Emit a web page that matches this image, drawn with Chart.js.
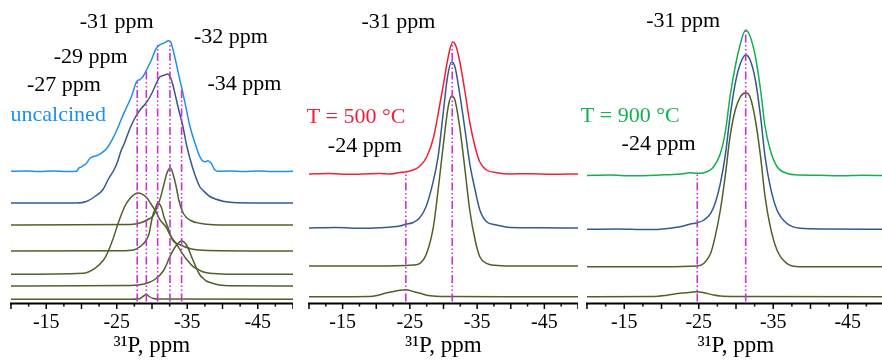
<!DOCTYPE html>
<html><head><meta charset="utf-8">
<script src="https://cdn.jsdelivr.net/npm/chart.js@4"></script>
<style>
html,body{margin:0;padding:0;background:#fff;overflow:hidden;width:882px;height:361px}
.p{position:absolute;top:0;height:361px}
</style></head><body>
<div class="p" style="left:9px;width:284px"><canvas id="c1"></canvas></div>
<div class="p" style="left:305px;width:273px"><canvas id="c2"></canvas></div>
<div class="p" style="left:579px;width:306px"><canvas id="c3"></canvas></div>
<script>
// ---------- Panel 1 : uncalcined ----------
const uncPpm = [-10,-12,-14,-16,-18,-19.3,-19.6,-20.0,-20.7,-21.2,-21.6,-22.1,-22.8,-23.6,-24.3,-25.0,-25.7,-26.4,-27.1,-27.8,-28.3,-28.7,-29.2,-29.9,-30.6,-31.1,-31.8,-32.3,-32.6,-33.0,-33.5,-33.9,-34.3,-34.9,-35.4,-36.1,-36.8,-37.5,-37.9,-38.4,-38.9,-39.4,-41,-43,-45,-47,-50];
const uncInt = [0,0.4,-0.3,0.3,-0.2,0,3,4.5,8,13,14.5,15.5,18,23,31,41,53,64,75,89.5,92,94.5,101,111,123,126.5,128.5,130.5,130,121,106,93,81,61,44.5,28,14.5,9.5,10.5,8,1.5,0,0.3,-0.3,0.3,-0.2,0];
const fitPpm = [-10,-19.3,-20.7,-22.0,-23.0,-23.9,-24.6,-25.1,-25.6,-26.1,-26.9,-27.5,-28.3,-29.3,-30.0,-30.7,-31.1,-31.8,-32.2,-32.6,-33.0,-33.4,-33.8,-34.4,-34.9,-35.4,-36.0,-36.8,-37.2,-38.2,-40.3,-42,-50];
const fitInt = [0,0,1.5,7,13,25,33,41,52,60,75,84,93,101.3,110,121,126,128,129,126,117,105,93,76,58,44,30,16,13,6.5,1.5,0.3,0];
const aPpm = [-10,-27,-28.3,-29.7,-30.2,-30.5,-31.1,-31.6,-32.1,-32.6,-33.1,-33.5,-33.8,-34.5,-35.5,-36.8,-37.7,-39.6,-50];
const aInt = [0,0.5,2,6.5,9.5,14,25,38,51.5,57,48,36,25,11,4.5,1.7,0.7,0,0];
const bPpm = [-10,-25.4,-27.5,-28.3,-29.1,-29.6,-29.9,-30.2,-30.4,-30.8,-31.3,-31.7,-32.4,-32.9,-33.9,-35.6,-37.9,-50];
const bInt = [0,0.3,1.3,4.3,10,17.7,29,37.7,41,47.7,44.3,34,21,11,6.5,2,0.5,0];
const cPpm = [-10,-20.2,-21.9,-23.1,-23.6,-24.4,-25.3,-26.1,-26.9,-28.0,-29.2,-29.7,-30.6,-31.1,-32.1,-32.5,-33.5,-34.4,-34.9,-35.8,-36.8,-37.2,-38.7,-41.5,-50];
const cInt = [0,1,6,14,20,34,53,67.3,76,81.3,77,72,62,55,46,40,30,20,15,8,4,2.5,0.7,0,0];
const dPpm = [-10,-27,-28.9,-30.4,-31.6,-32.1,-32.5,-33.5,-34.2,-34.9,-35.8,-36.8,-37.2,-37.7,-38.7,-39.6,-41,-50];
const dInt = [0,0.5,2,6.5,15,22,29,41,45,41,26,11,8,5,2.5,1,0.3,0];
const ePpm = [-10,-27,-28.2,-28.8,-29.2,-29.5,-30.2,-31,-50];
const eInt = [0,0,0.5,3.3,5,3.3,0.7,0.2,0];
const p1Offsets = [131.7,100,78,52,28.7,17,3.7];
const p1LinePpm = [-27.9,-29.2,-30.8,-32.55,-34.2];
const p1LineTop = [221.3,233,258,261.3,213.7];

// ---------- Panel 2 : T = 500 °C ----------
const red2Ppm = [-10,-13,-16,-19,-20.5,-22,-23.5,-24.3,-25.5,-26.5,-27.5,-28.5,-29.2,-30.0,-30.5,-31.0,-31.4,-31.9,-32.4,-33.2,-33.9,-34.7,-35.4,-36.4,-37.9,-40,-43,-46,-50];
const red2Int = [0,0.4,-0.3,0.3,0.5,0,1.5,2,4,8,17,36,60,90,110,126,132,127,113,82,52,27,12,4,1.3,0,0.3,-0.3,0];
const blue2Ppm = [-10,-14,-18,-20.5,-23.5,-24.4,-25.4,-26.4,-27.4,-28.4,-29.2,-29.9,-30.6,-31.2,-31.7,-32.4,-33.2,-33.9,-34.7,-35.4,-36.4,-37.9,-40,-44,-50];
const blue2Int = [0,0.4,-0.3,0.3,2,3.7,5.3,9.7,21.3,44.7,71.3,111.3,151.3,166,161.3,134.7,98,64.7,38,18,6.3,3,0.5,0.3,0];
const olive2Ppm = [-10,-20,-25.5,-26.5,-27.5,-28.5,-29.2,-30.0,-30.7,-31.2,-31.7,-32.4,-33.2,-33.9,-34.7,-35.4,-36.4,-37.6,-40,-50];
const olive2Int = [0,0,1,2.7,12.7,39.3,76,122.7,159.3,170,166,139.3,96,56,26,9.3,2.7,0.7,0,0];
const small2Ppm = [-10,-19,-20.1,-21.6,-23.1,-24.4,-25.6,-26.5,-27.5,-28.9,-31,-40,-50];
const small2Int = [0,0.3,1.2,4,6,7,5,3.5,1.5,0.5,0.2,0,0];
const p2Offsets = [129,75,37,6.3];
const p2LinePpm = [-24.4,-31.3];
const p2LineTop = [131.3,261.3];

// ---------- Panel 3 : T = 900 °C ----------
const green3Ppm = [-10,-13,-16,-19.8,-22.5,-23.9,-24.8,-25.7,-27.0,-27.9,-28.6,-29.2,-29.9,-30.6,-31.3,-31.9,-32.6,-33.3,-33.9,-34.6,-35.5,-36.8,-38.6,-41,-44,-47,-50];
const green3Int = [0,0.4,-0.3,0.5,1.5,2.8,2.2,2.8,8.8,22,45,79,109,132,145.5,139,119,85.5,49,25.5,9,2.2,0.5,0.3,-0.3,0.3,0];
const blue3Ppm = [-10,-14,-18,-19.8,-22.5,-23.9,-24.8,-25.7,-26.6,-27.2,-27.9,-28.6,-29.2,-29.9,-30.6,-31.3,-31.9,-32.6,-33.3,-33.9,-34.6,-35.5,-36.8,-38.6,-42,-50];
const blue3Int = [0,0.4,-0.3,0,2.6,5.3,6.6,9.3,16,26,46,76,112.6,146,166,174.3,169.3,149.3,112.6,72.6,42.6,19.3,6,1,0.3,0];
const olive3Ppm = [-10,-20,-24.8,-25.7,-26.6,-27.2,-27.9,-28.6,-29.2,-29.9,-30.6,-31.3,-31.9,-32.6,-33.3,-33.9,-34.6,-35.5,-36.8,-38.6,-50];
const olive3Int = [0,0,0.7,3.4,13.4,30,56.7,93.4,130,156.7,170,174,169.4,146.7,110,70,40,16.7,3.4,0,0];
const small3Ppm = [-10,-19,-20.7,-22.5,-23.9,-24.7,-25.7,-27.0,-27.9,-30,-50];
const small3Int = [0,0.3,1.5,3.4,4.4,5,4,1.7,0.7,0.2,0];
const p3Offsets = [127.5,73.7,36.3,6.3];
const p3LinePpm = [-24.8,-31.3];
const p3LineTop = [131.3,273];

// tick labels (ppm) shown on each axis
const tickLabels = [-15,-25,-35,-45];

// ---------- styling ----------
const C_LBLUE = '#1E90F0', C_DBLUE = '#35598F', C_OLIVE = '#4F6128', C_RED = '#F0203A', C_GREEN = '#14B050', C_MAG = '#CC33CC';
const SERIF = "'Liberation Serif','Times New Roman',serif";
Chart.defaults.font.family = SERIF;

function series(ppm, vals, off, color) {
  return { data: ppm.map((p, i) => ({ x: p, y: off + vals[i] })), borderColor: color, borderWidth: 1.5,
    pointRadius: 0, fill: false, cubicInterpolationMode: 'monotone' };
}
function vline(p, top) {
  return { data: [{ x: p, y: 1.5 }, { x: p, y: top }], borderColor: C_MAG, borderWidth: 1.6,
    borderDash: [8, 2.5, 1.5, 2.5, 1.5, 2.5], pointRadius: 0, fill: false, order: -1 };
}

const decor = {
  id: 'decor',
  afterDraw(chart) {
    const { ctx, chartArea: a, scales: { x, y } } = chart;
    ctx.save();
    ctx.strokeStyle = '#000';
    ctx.lineWidth = 2;
    ctx.beginPath(); ctx.moveTo(a.left - 1, a.bottom + 0.5); ctx.lineTo(a.right + 1, a.bottom + 0.5); ctx.stroke();
    ctx.lineWidth = 1.5;
    for (let v = -10; v >= -50; v -= 2.5) {
      const px = x.getPixelForValue(v);
      const major = Math.abs(v % 5) < 1e-6;
      ctx.beginPath(); ctx.moveTo(px, a.bottom); ctx.lineTo(px, a.bottom + (major ? 6 : 3.5)); ctx.stroke();
    }
    const labs = chart.options.plugins.decor.labels || [];
    ctx.textAlign = 'center'; ctx.textBaseline = 'alphabetic';
    ctx.font = '22px ' + SERIF;
    labs.forEach(l => {
      ctx.fillStyle = l.color || '#000';
      ctx.fillText(l.text, x.getPixelForValue(l.ppm), y.getPixelForValue(l.y));
    });
    ctx.restore();
  }
};

function makeChart(id, padLeft, datasets, labels) {
  return new Chart(document.getElementById(id), {
    type: 'line',
    data: { datasets },
    plugins: [decor],
    options: {
      responsive: true, maintainAspectRatio: false, animation: false,
      layout: { padding: { left: padLeft, right: 0, top: 0, bottom: 0 } },
      plugins: { legend: { display: false }, tooltip: { enabled: false }, decor: { labels } },
      scales: {
        x: {
          type: 'linear', min: -50, max: -10, reverse: true,
          grid: { display: false, drawTicks: true, tickLength: 8 }, border: { display: false },
          ticks: { stepSize: 5, autoSkip: false, maxRotation: 0, padding: 0, color: '#000',
            font: { size: 20, family: SERIF },
            callback: v => (tickLabels.includes(v) ? String(v) : '') },
          title: { display: true, text: '\u00B3\u00B9P, ppm', color: '#000', font: { size: 23, family: SERIF },
            padding: { top: 0, bottom: 1 } },
          afterFit: s => { s.height = 58; s.paddingLeft = 0; s.paddingRight = 0; }
        },
        y: { type: 'linear', min: 0, max: 303, display: false }
      }
    }
  });
}

// Panel 1
makeChart('c1', 2, [
  series(uncPpm, uncInt, p1Offsets[0], C_LBLUE),
  series(fitPpm, fitInt, p1Offsets[1], C_DBLUE),
  series(aPpm, aInt, p1Offsets[2], C_OLIVE),
  series(bPpm, bInt, p1Offsets[3], C_OLIVE),
  series(cPpm, cInt, p1Offsets[4], C_OLIVE),
  series(dPpm, dInt, p1Offsets[5], C_OLIVE),
  series(ePpm, eInt, p1Offsets[6], C_OLIVE),
  ...p1LinePpm.map((p, i) => vline(p, p1LineTop[i]))
], [
  { text: '-31 ppm', ppm: -25.0, y: 275.5 },
  { text: '-32 ppm', ppm: -41.2, y: 260 },
  { text: '-29 ppm', ppm: -21.3, y: 239.7 },
  { text: '-27 ppm', ppm: -17.5, y: 212 },
  { text: '-34 ppm', ppm: -43.1, y: 213 },
  { text: 'uncalcined', ppm: -16.7, y: 182, color: C_LBLUE }
]);

// Panel 2
makeChart('c2', 4, [
  series(red2Ppm, red2Int, p2Offsets[0], C_RED),
  series(blue2Ppm, blue2Int, p2Offsets[1], C_DBLUE),
  series(olive2Ppm, olive2Int, p2Offsets[2], C_OLIVE),
  series(small2Ppm, small2Int, p2Offsets[3], C_OLIVE),
  ...p2LinePpm.map((p, i) => vline(p, p2LineTop[i]))
], [
  { text: '-31 ppm', ppm: -23.3, y: 275 },
  { text: 'T = 500 \u00B0C', ppm: -17.0, y: 180, color: C_RED },
  { text: '-24 ppm', ppm: -18.3, y: 151.3 }
]);

// Panel 3
makeChart('c3', 8, [
  series(green3Ppm, green3Int, p3Offsets[0], C_GREEN),
  series(blue3Ppm, blue3Int, p3Offsets[1], C_DBLUE),
  series(olive3Ppm, olive3Int, p3Offsets[2], C_OLIVE),
  series(small3Ppm, small3Int, p3Offsets[3], C_OLIVE),
  ...p3LinePpm.map((p, i) => vline(p, p3LineTop[i]))
], [
  { text: '-31 ppm', ppm: -22.9, y: 276 },
  { text: 'T = 900 \u00B0C', ppm: -15.8, y: 181.3, color: C_GREEN },
  { text: '-24 ppm', ppm: -19.6, y: 153 }
]);
</script>
</body></html>
